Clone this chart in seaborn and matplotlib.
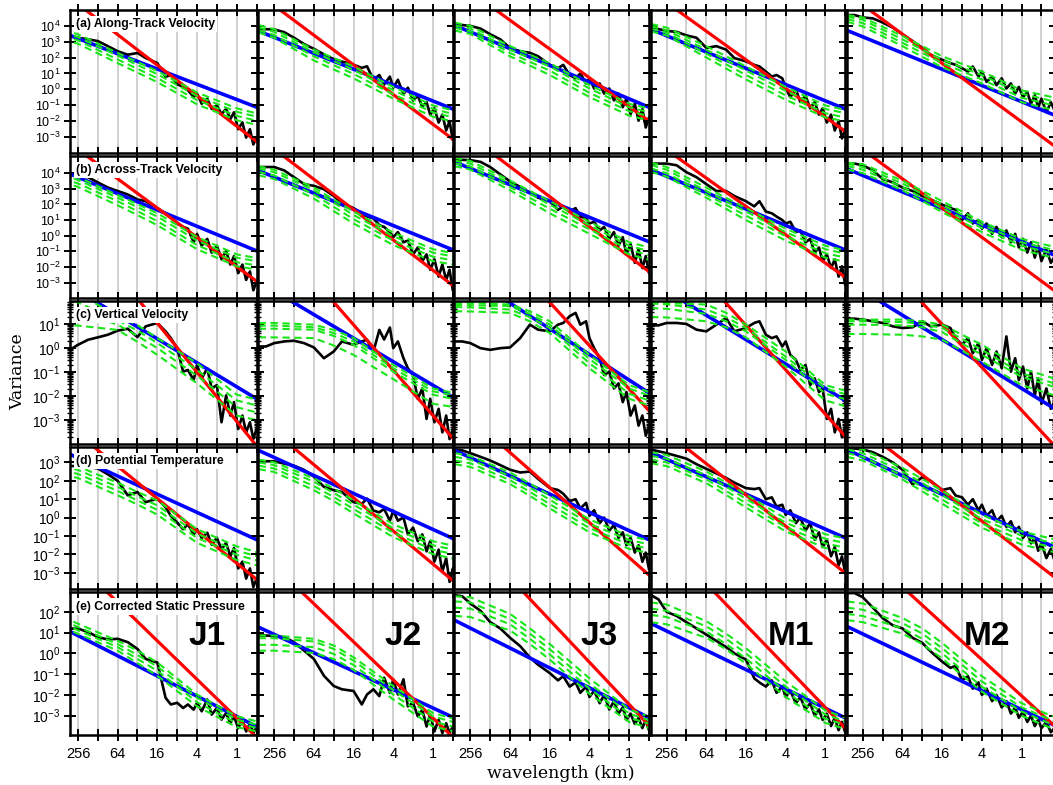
import numpy as np
import seaborn as sns
import matplotlib
matplotlib.use("Agg")
import matplotlib.pyplot as plt
from matplotlib.ticker import FixedLocator, FuncFormatter, LogLocator, NullFormatter, NullLocator

# wavelength (km) of the measured spectra points
wl = [440, 340, 256, 180, 128, 90, 64, 45, 32, 24, 16, 12, 10, 8, 6.5, 5.5,
      4.5, 4, 3.4, 2.8, 2.4, 2, 1.7, 1.45, 1.25, 1.1, 0.95, 0.82, 0.72, 0.63,
      0.56, 0.5, 0.42, 0.36, 0.3]
# wavelength of the model curves (green dashed) and of the two fit lines
wl_model = [440, 256, 64, 32, 16, 4, 1, 0.3]
wl_fit = [448, 0.3]

legs = ["J1", "J2", "J3", "M1", "M2"]
titles = ["(a) Along-Track Velocity", "(b) Across-Track Velocity", "(c) Vertical Velocity",
          "(d) Potential Temperature", "(e) Corrected Static Pressure"]

# all values below are log10(variance)
obs_a = [
    [3.45, 3.40, 3.25, 3.15, 3.04, 2.72, 2.40, 2.18, 2.29, 1.97, 1.65, 0.79, 0.90, 0.32, 0.15, -0.06, -0.49, -0.27, -0.91, -0.59, -1.24, -1.02, -1.56, -1.24, -1.88, -1.45, -2.52, -2.09, -3.05, -2.52, -3.48, -3.05, -3.3, -3.5, -3.4],
    [3.79, 3.79, 3.78, 3.6, 3.25, 2.85, 2.55, 2.2, 1.9, 1.75, 1.55, 1.35, 1.45, 0.6, 0.9, 0.3, 0.8, 0.1, 0.6, -0.3, 0.1, -0.7, -0.4, -1.1, -0.8, -1.6, -1.2, -2.1, -1.6, -2.6, -2.0, -3.2, -2.5, -3.0, -2.8],
    [4.1, 4.05, 4.0, 3.83, 3.47, 3.15, 2.6, 2.4, 2.3, 2.08, 1.54, 1.33, 1.54, 0.9, 0.69, 1.0, 0.37, 0.69, 0.05, 0.37, -0.27, 0.05, -0.7, -0.27, -1.13, -0.59, -1.56, -0.91, -1.98, -1.24, -2.41, -1.77, -2.3, -2.0, -2.5],
    [3.83, 3.8, 3.68, 3.62, 3.4, 3.25, 2.61, 2.72, 2.5, 1.97, 1.76, 1.54, 1.44, 1.12, 0.8, 0.9, 0.69, 0.1, -0.5, 0.0, -0.8, -0.4, -1.2, -0.8, -1.6, -1.2, -2.1, -1.6, -2.6, -2.0, -3.1, -2.5, -3.2, -2.8, -3.0],
    [4.68, 4.68, 4.53, 4.47, 4.21, 3.89, 3.47, 3.04, 2.61, 2.18, 1.86, 1.65, 1.54, 1.33, 1.12, 1.44, 0.8, 1.12, 0.47, 0.8, 0.26, 0.69, 0.05, 0.37, -0.27, 0.15, -0.49, -0.17, -0.91, -0.38, -1.13, -0.59, -1.45, -0.81, -1.56],
]
obs_b = [
    [3.95, 3.87, 3.78, 3.72, 3.39, 3.06, 2.84, 2.62, 2.3, 2.19, 1.75, 1.42, 1.21, 0.77, 0.55, 0.44, -0.43, 0.11, -0.65, -0.21, -1.09, -0.65, -1.52, -0.98, -1.85, -1.31, -2.4, -1.85, -2.83, -2.29, -3.49, -2.94, -3.3, -3.6, -3.4],
    [4.37, 4.37, 4.37, 4.15, 3.72, 3.28, 3.17, 2.95, 2.52, 2.08, 1.75, 1.42, 1.21, 1.1, 0.66, 0.55, 0.22, -0.1, 0.22, -0.43, -0.32, -1.2, -0.76, -1.63, -1.2, -2.18, -1.52, -2.62, -1.85, -2.83, -2.18, -3.49, -2.8, -3.2, -3.0],
    [4.85, 4.83, 4.81, 4.7, 4.37, 3.9, 3.45, 3.1, 2.73, 2.41, 2.19, 1.64, 1.86, 1.53, 1.75, 1.21, 1.1, 0.77, 0.88, 0.33, 0.55, -0.21, 0.22, -0.65, -0.1, -1.2, -0.54, -1.74, -0.87, -2.07, -1.31, -2.4, -1.8, -2.4, -2.1],
    [4.59, 4.59, 4.59, 4.48, 4.04, 3.72, 3.28, 2.84, 2.84, 2.52, 2.19, 1.86, 2.19, 1.53, 1.42, 1.21, 0.99, 0.77, 0.88, 0.22, 0.33, -0.43, -0.21, -1.09, -0.76, -1.63, -1.2, -2.07, -1.52, -2.62, -1.96, -3.16, -2.5, -3.0, -2.8],
    [4.59, 4.59, 4.48, 4.15, 3.61, 3.39, 3.06, 2.84, 2.52, 2.3, 1.97, 1.75, 1.64, 0.99, 1.42, 0.77, 0.99, 0.44, 0.77, 0.11, 0.55, -0.1, 0.33, -0.43, 0.11, -0.76, -0.21, -1.09, -0.43, -1.41, -0.65, -1.63, -0.87, -1.74, -1.2],
]
obs_c = [
    [-0.2, -0.08, 0.13, 0.34, 0.44, 0.55, 0.72, 0.8, 0.45, 0.9, 1.04, 0.69, 0.41, -0.01, -0.99, -0.92, -1.34, -0.71, -1.27, -0.85, -1.69, -1.55, -3.1, -1.98, -2.82, -2.26, -3.38, -2.82, -3.52, -3.1, -3.8, -3.38, -3.6, -3.8, -3.7],
    [0.06, 0.06, 0.2, 0.27, 0.3, 0.2, 0.02, -0.43, -0.15, 0.27, 0.13, 0.27, 0.34, -0.15, 0.75, 0.35, 0.85, -0.01, 0.27, -0.43, -0.85, -1.13, -2.12, -1.69, -2.96, -2.12, -3.1, -2.54, -3.52, -2.82, -3.8, -3.38, -3.6, -3.8, -3.7],
    [0.27, 0.27, 0.2, -0.01, -0.08, -0.01, 0.02, 0.41, 0.97, 0.76, 0.69, 0.97, 1.04, 1.32, 1.46, 0.97, 1.11, 0.41, -0.01, -0.43, -1.13, -0.99, -1.69, -1.48, -2.26, -1.84, -2.82, -2.4, -3.24, -2.82, -3.66, -3.24, -3.5, -3.7, -3.6],
    [0.94, 0.94, 1.04, 1.04, 1.0, 0.76, 0.69, 0.97, 1.25, 0.69, 0.83, 1.04, 1.11, 0.55, 0.41, 0.48, 0.06, 0.27, -0.29, -0.5, -0.92, -0.71, -1.55, -1.27, -1.84, -1.69, -2.96, -2.54, -3.52, -2.96, -3.73, -3.24, -3.5, -3.7, -3.6],
    [1.22, 1.22, 1.18, 1.11, 1.04, 0.9, 0.83, 0.86, 1.11, 0.9, 0.97, 0.83, 0.41, 0.13, 0.41, -0.22, 0.2, -0.5, -0.01, -0.71, -0.15, -0.85, 0.48, -0.99, -0.43, -1.34, -0.78, -1.69, -0.99, -1.98, -1.27, -2.33, -1.69, -2.54, -2.12],
]
obs_d = [
    [2.8, 2.8, 2.8, 2.75, 2.67, 2.35, 2.0, 1.21, 1.39, 0.84, 1.03, 0.56, 0.1, -0.27, -0.63, -0.36, -0.91, -0.63, -1.1, -0.82, -1.47, -1.1, -1.74, -1.37, -2.11, -1.65, -2.76, -2.39, -3.31, -2.76, -3.77, -3.31, -3.5, -3.8, -3.7],
    [3.06, 3.06, 3.06, 2.93, 2.82, 2.59, 2.23, 1.67, 1.49, 1.39, 0.84, 0.75, 1.03, 0.38, 0.29, 0.47, -0.17, 0.38, -0.17, 0.01, -0.91, -0.54, -1.28, -0.91, -1.83, -1.28, -2.39, -1.74, -2.94, -2.2, -3.49, -2.76, -3.2, -3.5, -3.3],
    [3.7, 3.65, 3.5, 3.3, 3.1, 2.85, 2.6, 2.45, 2.5, 2.1, 1.6, 1.5, 1.3, 0.9, 1.0, 0.5, 0.8, 0.1, 0.4, -0.3, 0.0, -0.7, -0.4, -1.1, -0.8, -1.5, -1.1, -1.9, -1.5, -2.4, -1.9, -2.8, -2.3, -2.8, -2.6],
    [3.7, 3.6, 3.5, 3.35, 3.2, 2.9, 2.65, 2.4, 2.15, 1.9, 1.6, 1.55, 1.6, 1.0, 1.1, 0.6, 0.7, 0.15, 0.4, -0.3, 0.0, -0.7, -0.3, -1.2, -0.8, -1.6, -1.2, -2.1, -1.6, -2.6, -2.1, -3.0, -2.5, -3.0, -2.8],
    [3.8, 3.75, 3.7, 3.55, 3.3, 3.0, 2.6, 1.8, 2.2, 2.0, 1.5, 1.6, 1.2, 1.1, 0.7, 1.0, 0.4, 0.7, 0.1, 0.4, -0.2, 0.1, -0.5, -0.2, -0.8, -0.5, -1.1, -0.8, -1.4, -1.1, -1.8, -1.4, -2.2, -1.7, -2.6],
]
obs_e = [
    [1.19, 1.19, 1.19, 1.03, 0.78, 0.67, 0.7, 0.54, 0.21, -0.27, -0.44, -2.14, -2.46, -2.38, -2.63, -2.46, -2.71, -2.38, -2.79, -2.22, -2.95, -2.63, -3.19, -2.87, -3.36, -3.03, -3.6, -3.19, -3.76, -3.36, -3.84, -3.52, -3.7, -3.9, -3.8],
    [0.86, 0.86, 0.83, 0.78, 0.54, 0.13, -0.27, -1.08, -1.57, -1.73, -1.81, -2.46, -1.98, -1.73, -2.06, -1.17, -1.9, -1.25, -1.98, -1.25, -2.55, -2.38, -3.03, -2.71, -3.52, -2.95, -3.76, -3.19, -3.84, -3.36, -3.84, -3.52, -3.7, -3.9, -3.8],
    [2.8, 2.75, 2.4, 2.05, 1.5, 1.2, 0.75, 0.35, -0.2, -0.55, -0.95, -1.3, -1.1, -1.6, -1.4, -1.9, -1.6, -2.1, -1.8, -2.4, -2.0, -2.7, -2.3, -2.9, -2.6, -3.2, -2.9, -3.4, -3.1, -3.6, -3.2, -3.7, -3.4, -3.8, -3.5],
    [2.8, 2.6, 2.0, 1.8, 1.5, 1.2, 0.9, 0.6, 0.3, 0.0, -0.3, -1.2, -1.4, -1.6, -1.3, -1.9, -1.6, -2.1, -1.8, -2.4, -2.1, -2.7, -2.4, -3.0, -2.7, -3.2, -2.9, -3.5, -3.1, -3.7, -3.3, -3.8, -3.5, -3.9, -3.6],
    [2.9, 2.9, 2.7, 2.2, 1.7, 1.35, 1.2, 0.75, 0.5, 0.1, -0.4, -0.7, -0.6, -1.3, -1.1, -1.7, -1.4, -2.0, -1.7, -2.3, -2.0, -2.6, -2.3, -2.9, -2.6, -3.1, -2.8, -3.3, -3.0, -3.5, -3.2, -3.6, -3.3, -3.8, -3.5],
]

# four model curves per panel, at wl_model
model_a = [
    [[3.75, 3.47, 2.29, 1.72, 1.15, -0.2, -1.2, -1.75], [3.57, 3.29, 2.12, 1.53, 0.95, -0.42, -1.42, -1.95],
     [3.36, 3.08, 1.88, 1.29, 0.7, -0.68, -1.68, -2.2], [3.15, 2.87, 1.65, 1.05, 0.45, -0.95, -1.95, -2.45]],
    [[4.05, 3.79, 2.5, 1.97, 1.44, 0.15, -1.02, -1.55], [3.9, 3.62, 2.33, 1.78, 1.22, -0.06, -1.24, -1.78],
     [3.73, 3.42, 2.08, 1.52, 0.97, -0.32, -1.45, -2.0], [3.58, 3.25, 1.82, 1.25, 0.69, -0.59, -1.73, -2.25]],
    [[4.2, 4.0, 2.72, 2.18, 1.65, 0.26, -0.91, -1.45], [4.03, 3.83, 2.5, 1.97, 1.44, 0.05, -1.13, -1.68],
     [3.87, 3.66, 2.29, 1.73, 1.18, -0.23, -1.38, -1.92], [3.7, 3.49, 2.08, 1.49, 0.9, -0.49, -1.66, -2.2]],
    [[4.12, 3.89, 2.72, 2.08, 1.44, 0.15, -1.02, -1.5], [3.98, 3.72, 2.5, 1.84, 1.18, -0.1, -1.24, -1.7],
     [3.82, 3.57, 2.25, 1.57, 0.9, -0.38, -1.51, -1.98], [3.65, 3.4, 2.01, 1.31, 0.62, -0.66, -1.77, -2.22]],
    [[4.68, 4.53, 3.36, 2.72, 2.08, 1.12, -0.06, -0.55], [4.58, 4.38, 3.15, 2.5, 1.86, 0.9, -0.27, -0.8],
     [4.43, 4.17, 2.93, 2.29, 1.65, 0.62, -0.53, -1.05], [4.26, 3.96, 2.72, 2.05, 1.39, 0.37, -0.81, -1.35]],
]
model_b = [
    [[4.05, 3.72, 2.58, 2.0, 1.42, -0.1, -1.2, -1.6], [3.85, 3.54, 2.41, 1.81, 1.21, -0.32, -1.41, -1.8],
     [3.63, 3.32, 2.19, 1.55, 0.92, -0.61, -1.7, -2.05], [3.42, 3.1, 1.93, 1.3, 0.66, -0.87, -1.96, -2.3]],
    [[4.42, 4.2, 3.06, 2.3, 1.53, 0.18, -0.87, -1.3], [4.27, 4.04, 2.89, 2.1, 1.31, -0.04, -1.09, -1.5],
     [4.05, 3.83, 2.62, 1.83, 1.05, -0.32, -1.35, -1.75], [3.84, 3.61, 2.36, 1.56, 0.77, -0.61, -1.63, -2.0]],
    [[4.95, 4.76, 3.5, 2.85, 2.19, 0.88, -0.43, -1.0], [4.78, 4.59, 3.32, 2.65, 1.97, 0.66, -0.65, -1.25],
     [4.6, 4.41, 3.1, 2.4, 1.71, 0.4, -0.91, -1.5], [4.42, 4.2, 2.89, 2.15, 1.42, 0.11, -1.2, -1.8]],
    [[4.65, 4.37, 3.06, 2.4, 1.75, 0.44, -0.65, -1.15], [4.5, 4.2, 2.84, 2.18, 1.53, 0.22, -0.87, -1.35],
     [4.28, 3.98, 2.62, 1.95, 1.27, -0.04, -1.13, -1.6], [4.06, 3.76, 2.41, 1.7, 0.99, -0.32, -1.41, -1.85]],
    [[4.65, 4.55, 3.5, 2.85, 2.19, 0.88, -0.21, -0.75], [4.58, 4.37, 3.32, 2.65, 1.97, 0.7, -0.43, -0.95],
     [4.43, 4.2, 3.1, 2.42, 1.75, 0.48, -0.65, -1.2], [4.22, 3.98, 2.89, 2.2, 1.49, 0.22, -0.91, -1.45]],
]
model_c = [
    [[2.4, 2.25, 1.35, 0.95, 0.41, -0.64, -1.95, -2.3], [2.0, 1.9, 1.15, 0.72, 0.2, -0.92, -2.19, -2.55],
     [1.6, 1.5, 0.97, 0.5, -0.01, -1.16, -2.47, -2.85], [0.95, 0.93, 0.75, 0.25, -0.29, -1.48, -2.82, -3.15]],
    [[1.04, 1.04, 0.97, 0.75, 0.41, -0.71, -1.69, -2.0], [0.93, 0.93, 0.86, 0.62, 0.27, -0.85, -1.81, -2.1],
     [0.8, 0.8, 0.76, 0.5, 0.13, -0.99, -1.95, -2.25], [0.44, 0.44, 0.41, 0.1, -0.29, -1.3, -2.33, -2.55]],
    [[1.88, 1.87, 1.81, 1.53, 1.11, -0.29, -1.55, -2.05], [1.79, 1.78, 1.74, 1.42, 0.97, -0.46, -1.69, -2.2],
     [1.7, 1.69, 1.6, 1.28, 0.83, -0.64, -1.91, -2.4], [1.53, 1.52, 1.46, 1.11, 0.62, -0.85, -2.12, -2.6]],
    [[1.88, 1.87, 1.81, 1.46, 0.97, -0.15, -1.55, -1.95], [1.85, 1.82, 1.6, 1.28, 0.83, -0.36, -1.69, -2.1],
     [1.66, 1.63, 1.42, 1.11, 0.69, -0.5, -1.91, -2.3], [1.29, 1.27, 1.11, 0.86, 0.44, -0.78, -2.19, -2.6]],
    [[1.18, 1.18, 1.18, 1.11, 0.97, 0.13, -0.85, -1.3], [1.11, 1.11, 1.08, 1.0, 0.83, -0.08, -1.06, -1.5],
     [0.97, 0.97, 0.94, 0.86, 0.66, -0.29, -1.2, -1.65], [0.58, 0.58, 0.55, 0.48, 0.34, -0.57, -1.55, -2.0]],
]
model_d = [
    [[2.98, 2.78, 1.89, 1.39, 0.93, -0.63, -1.56, -2.1], [2.79, 2.59, 1.67, 1.15, 0.66, -0.87, -1.8, -2.3],
     [2.57, 2.37, 1.45, 0.93, 0.42, -1.1, -2.02, -2.55], [2.35, 2.15, 1.21, 0.71, 0.16, -1.37, -2.3, -2.8]],
    [[3.15, 3.0, 2.13, 1.58, 0.93, -0.36, -1.28, -1.7], [3.0, 2.85, 1.95, 1.34, 0.71, -0.58, -1.5, -1.9],
     [2.82, 2.67, 1.71, 1.12, 0.47, -0.82, -1.74, -2.15], [2.63, 2.48, 1.49, 0.9, 0.23, -1.06, -1.98, -2.4]],
    [[3.5, 3.35, 2.45, 1.85, 1.2, -0.1, -1.0, -1.4], [3.3, 3.15, 2.25, 1.62, 0.97, -0.33, -1.22, -1.62],
     [3.1, 2.95, 2.03, 1.4, 0.73, -0.57, -1.46, -1.86], [2.9, 2.75, 1.82, 1.18, 0.5, -0.8, -1.7, -2.1]],
    [[3.55, 3.4, 2.5, 1.9, 1.25, -0.05, -0.9, -1.3], [3.35, 3.2, 2.3, 1.68, 1.02, -0.28, -1.15, -1.55],
     [3.15, 3.0, 2.08, 1.45, 0.78, -0.52, -1.4, -1.8], [2.95, 2.8, 1.87, 1.23, 0.55, -0.75, -1.65, -2.05]],
    [[3.9, 3.7, 2.7, 2.1, 1.45, 0.15, -0.75, -1.2], [3.7, 3.5, 2.5, 1.88, 1.22, -0.08, -0.98, -1.42],
     [3.5, 3.3, 2.28, 1.65, 0.98, -0.32, -1.22, -1.66], [3.3, 3.1, 2.07, 1.43, 0.75, -0.55, -1.46, -1.9]],
]
model_e = [
    [[1.75, 1.43, 0.6, 0.13, -0.44, -1.98, -3.03, -3.45], [1.59, 1.27, 0.45, -0.08, -0.63, -2.14, -3.19, -3.6],
     [1.43, 1.11, 0.3, -0.27, -0.84, -2.35, -3.36, -3.75], [1.27, 0.94, 0.13, -0.47, -1.08, -2.55, -3.55, -3.9]],
    [[0.86, 0.86, 0.7, 0.38, -0.19, -1.57, -2.87, -3.35], [0.73, 0.73, 0.57, 0.21, -0.35, -1.77, -3.03, -3.5],
     [0.41, 0.41, 0.3, -0.03, -0.56, -1.98, -3.28, -3.7], [0.13, 0.13, 0.02, -0.27, -0.79, -2.22, -3.52, -3.9]],
    [[2.75, 2.7, 1.9, 1.2, 0.45, -1.2, -2.7, -3.3], [2.5, 2.45, 1.65, 0.95, 0.2, -1.45, -2.9, -3.45],
     [2.2, 2.15, 1.4, 0.7, -0.05, -1.7, -3.1, -3.6], [1.8, 1.75, 1.1, 0.45, -0.3, -1.95, -3.3, -3.8]],
    [[2.45, 2.35, 1.55, 0.95, 0.25, -1.35, -2.75, -3.35], [2.15, 2.05, 1.3, 0.7, 0.0, -1.6, -2.95, -3.5],
     [1.85, 1.75, 1.05, 0.45, -0.25, -1.85, -3.15, -3.65], [1.5, 1.4, 0.75, 0.2, -0.5, -2.1, -3.35, -3.85]],
    [[2.5, 2.4, 1.7, 1.2, 0.5, -1.1, -2.4, -3.1], [2.2, 2.1, 1.45, 0.95, 0.25, -1.35, -2.6, -3.3],
     [1.9, 1.8, 1.2, 0.7, 0.0, -1.6, -2.8, -3.5], [1.6, 1.5, 0.95, 0.45, -0.25, -1.85, -3.0, -3.7]],
]

# blue and red straight fits, value at 448 km and at 0.3 km
blue_a = [[3.59, -1.48], [3.68, -1.61], [4.04, -1.52], [3.79, -1.62], [3.72, -1.67]]
blue_b = [[4.14, -1.36], [4.15, -1.29], [4.7, -0.78], [4.2, -1.3], [4.26, -1.29]]
blue_c = [[2.78, -2.49], [2.77, -2.41], [3.37, -2.27], [2.79, -2.57], [2.79, -2.57]]
blue_d = [[3.64, -1.56], [3.66, -1.49], [3.66, -1.57], [3.55, -1.45], [3.7, -1.65]]
blue_e = [[1.25, -3.88], [1.27, -3.4], [1.6, -3.45], [1.45, -3.45], [1.3, -3.5]]
red_a = [[6.15, -4.0], [6.04, -3.83], [6.9, -2.67], [6.2, -3.32], [6.06, -3.65]]
red_b = [[6.24, -3.6], [6.3, -3.89], [7.07, -3.0], [6.2, -3.32], [6.23, -3.59]]
red_c = [[5.95, -4.84], [5.51, -4.46], [6.24, -3.28], [5.39, -4.37], [5.28, -4.15]]
red_d = [[5.25, -4.0], [5.4, -4.08], [6.2, -3.82], [5.31, -3.63], [5.49, -3.3]]
red_e = [[5.06, -4.72], [4.96, -4.7], [6.48, -4.22], [6.14, -4.33], [5.64, -3.56]]

obs = [obs_a, obs_b, obs_c, obs_d, obs_e]
model = [model_a, model_b, model_c, model_d, model_e]
blue = [blue_a, blue_b, blue_c, blue_d, blue_e]
red = [red_a, red_b, red_c, red_d, red_e]

ylims = [(-4.0, 5.0), (-4.0, 5.1), (-4.0, 1.95), (-3.9, 3.85), (-3.93, 2.94)]
# labelled decades of each row
yrange = [(-3, 4), (-3, 4), (-3, 1), (-3, 3), (-3, 2)]
xlims = [(338, 0.5), (448, 0.5), (448, 0.5), (448, 0.5), (448, 0.31)]

sns.set_style("ticks")
plt.rcParams['font.family'] = ['Liberation Sans', 'DejaVu Sans']
plt.rcParams['mathtext.default'] = 'regular'
plt.rcParams['text.color'] = 'black'
plt.rcParams['xtick.color'] = 'black'
plt.rcParams['ytick.color'] = 'black'

fig = plt.figure(figsize=(10.53, 7.85), dpi=100)
widths = [np.log2(a / b) for a, b in xlims]
gs = fig.add_gridspec(5, 5, left=70 / 1053, right=1.002, top=1 - 10 / 785, bottom=1 - 735 / 785,
                      width_ratios=widths, wspace=0.008, hspace=0.02)

xt = [256, 128, 64, 32, 16, 8, 4, 2, 1, 0.5]
xlab = {256: "256", 64: "64", 16: "16", 4: "4", 1: "1"}

for r in range(5):
    lo, hi = ylims[r]
    decades = [10.0 ** k for k in range(yrange[r][0], yrange[r][1] + 1)]
    for c in range(5):
        ax = fig.add_subplot(gs[r, c])
        sns.lineplot(x=wl, y=10 ** np.array(obs[r][c]), ax=ax, color='black', lw=1.9,
                     sort=False, estimator=None, zorder=2)
        sns.lineplot(x=wl_fit, y=10 ** np.array(blue[r][c]), ax=ax, color='#0000ff', lw=2.6,
                     sort=False, estimator=None, zorder=2.2)
        sns.lineplot(x=wl_fit, y=10 ** np.array(red[r][c]), ax=ax, color='#ff0000', lw=2.3,
                     sort=False, estimator=None, zorder=2.3)
        for m in model[r][c]:
            sns.lineplot(x=wl_model, y=10 ** np.array(m), ax=ax, color='#19e619', lw=1.5,
                         sort=False, estimator=None, zorder=2.4)
            ax.lines[-1].set_dashes((3.5, 2.2))

        ax.set_xscale('log')
        ax.set_yscale('log')
        ax.set_xlim(*xlims[c])
        ax.set_ylim(10 ** lo, 10 ** hi)
        ax.set_xlabel('')
        ax.set_ylabel('')

        ax.xaxis.set_major_locator(FixedLocator(xt))
        ax.xaxis.set_minor_locator(NullLocator())
        if r == 4:
            ax.xaxis.set_major_formatter(FuncFormatter(lambda v, p: xlab.get(v, "")))
        else:
            ax.xaxis.set_major_formatter(NullFormatter())
        ax.yaxis.set_major_locator(FixedLocator(decades))
        ax.yaxis.set_minor_locator(LogLocator(base=10, subs=np.arange(2, 10)))
        ax.yaxis.set_minor_formatter(NullFormatter())
        if c == 0:
            ax.yaxis.set_major_formatter(FuncFormatter(lambda v, p: r'$10^{%d}$' % round(np.log10(v))))
        else:
            ax.yaxis.set_major_formatter(NullFormatter())

        ax.xaxis.grid(True, color='#c8c8c8', lw=1.2)
        ax.set_axisbelow(True)
        ax.tick_params(which='major', direction='inout', length=8, width=1.4, top=True, right=True)
        ax.tick_params(which='minor', direction='inout', length=4, width=1.0, top=True, right=True)
        ax.tick_params(axis='x', labelsize=10.5, pad=5)
        ax.tick_params(axis='y', labelsize=9 if r < 2 else 10, pad=3)
        for s in ax.spines.values():
            s.set_linewidth(1.8)
            s.set_color('black')

        if c == 0:
            ax.text(0.03, 0.9, titles[r], transform=ax.transAxes, fontsize=8.8, fontweight='bold',
                    ha='left', va='center', zorder=10, color='black',
                    bbox=dict(facecolor='white', edgecolor='none', pad=1.5))
        if r == 4:
            ax.text(1.5, 10 ** (lo + 0.69 * (hi - lo)), legs[c], fontsize=24, fontweight='bold',
                    ha='right', va='center', zorder=10, color='black')

fig.text(18 / 1053, 1 - 372 / 785, "Variance", rotation=90, ha='center', va='center',
         family=['DejaVu Serif'], fontsize=12.5, color='black')
fig.text(561 / 1053, 1 - 773 / 785, "wavelength (km)", ha='center', va='center',
         family=['DejaVu Serif'], fontsize=12.5, color='black')

fig.savefig('out.png', dpi=100)
